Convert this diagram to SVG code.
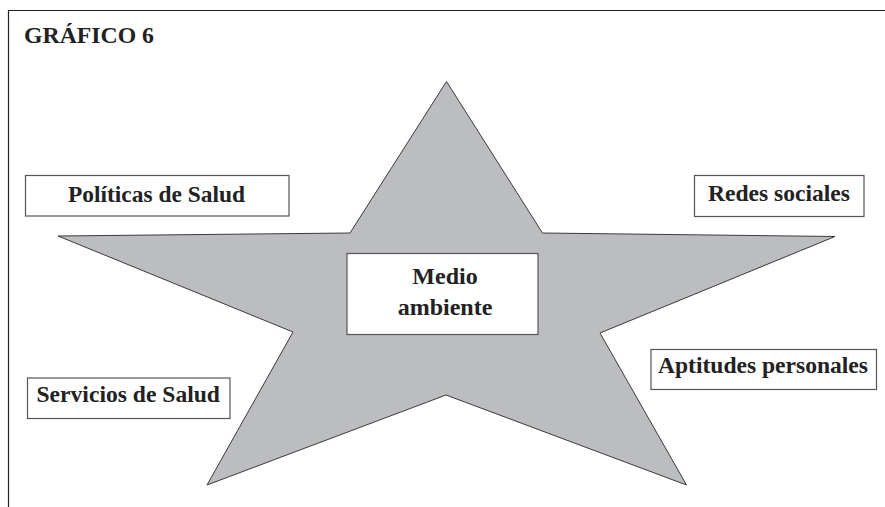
<svg xmlns="http://www.w3.org/2000/svg" width="885" height="507" viewBox="0 0 885 507">
<style>
.frame{fill:none;stroke:#222;stroke-width:1.2}
.star{fill:#bcbdc1;stroke:#3a3a3a;stroke-width:1}
.box{fill:#fff;stroke:#555;stroke-width:1.2}
.t{font-family:"Liberation Serif","Times New Roman",serif;font-weight:bold;font-size:24px;fill:#222}
.h{font-size:23px}
</style>
<rect width="885" height="507" fill="#fff"/>
<path class="frame" d="M8.5,507 V10.5 H885"/>
<text class="t h" x="24" y="43" textLength="130" lengthAdjust="spacingAndGlyphs">GRÁFICO 6</text>
<g id="star">
<polygon class="star" points="446.5,81.5 542.5,233 835,236.5 600,333 686.5,485 446,395 207,485 293,332 58,236 350,233"/>
</g>
<g id="medio">
<rect class="box" x="347" y="253.5" width="191" height="81"/>
<text class="t" x="445" y="283.5" text-anchor="middle">Medio</text>
<text class="t" x="445" y="315" text-anchor="middle">ambiente</text>
</g>
<g id="politicas">
<rect class="box" x="25.5" y="175.5" width="263.5" height="40.5"/>
<text class="t" x="68" y="201.5" textLength="177" lengthAdjust="spacingAndGlyphs">Políticas de Salud</text>
</g>
<g id="redes">
<rect class="box" x="694.5" y="175.5" width="169.5" height="41"/>
<text class="t" x="708" y="201" textLength="142" lengthAdjust="spacingAndGlyphs">Redes sociales</text>
</g>
<g id="servicios">
<rect class="box" x="27.5" y="378" width="202.5" height="40.5"/>
<text class="t" x="36.5" y="401.5" textLength="183.5" lengthAdjust="spacingAndGlyphs">Servicios de Salud</text>
</g>
<g id="aptitudes">
<rect class="box" x="651" y="349.5" width="225.5" height="40"/>
<text class="t" x="658" y="373" textLength="210" lengthAdjust="spacingAndGlyphs">Aptitudes personales</text>
</g>
<g id="connectors"></g>
</svg>
